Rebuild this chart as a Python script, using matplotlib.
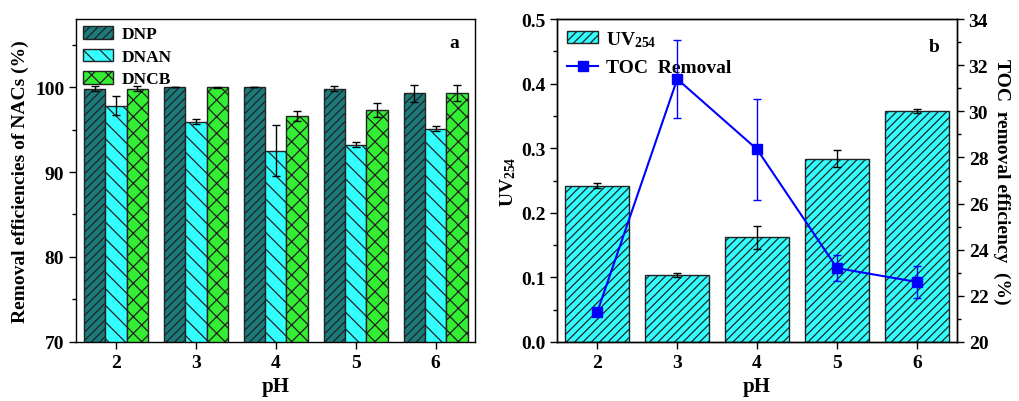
import matplotlib.pyplot as plt
import numpy as np
from matplotlib.lines import Line2D
from matplotlib.patches import Patch
from matplotlib.ticker import MultipleLocator

plt.rcParams['font.family'] = ['Liberation Serif', 'DejaVu Serif']
plt.rcParams['font.weight'] = 'bold'
plt.rcParams['axes.labelweight'] = 'bold'
plt.rcParams['font.size'] = 14
plt.rcParams['mathtext.fontset'] = 'custom'
plt.rcParams['mathtext.rm'] = 'Liberation Serif:bold'
plt.rcParams['mathtext.bf'] = 'Liberation Serif:bold'
plt.rcParams['mathtext.it'] = 'Liberation Serif:bold:italic'
plt.rcParams['hatch.linewidth'] = 0.9

# panel a data
ph = [2, 3, 4, 5, 6]
dnp = [99.8, 100.0, 100.0, 99.8, 99.3]
dnp_err = [0.3, 0.0, 0.0, 0.3, 1.0]
dnan = [97.8, 95.9, 92.5, 93.2, 95.1]
dnan_err = [1.1, 0.3, 3.0, 0.3, 0.3]
dncb = [99.8, 99.95, 96.6, 97.3, 99.3]
dncb_err = [0.3, 0.05, 0.6, 0.8, 0.9]

# panel b data
uv254 = [0.242, 0.103, 0.162, 0.284, 0.358]
uv254_err = [0.004, 0.003, 0.018, 0.013, 0.003]
toc = [21.3, 31.4, 28.35, 23.2, 22.6]
toc_err = [0.1, 1.7, 2.2, 0.55, 0.7]

fig = plt.figure(figsize=(10.19, 4.02), dpi=100)
ax1 = fig.add_axes([0.0746, 0.147, 0.392, 0.803])
ax2 = fig.add_axes([0.547, 0.147, 0.392, 0.803])

x = np.array(ph)
w = 0.267
ekw = dict(ecolor='black', capsize=3, elinewidth=1, capthick=1)
ax1.bar(x - w, dnp, w, color='#1b7b7b', edgecolor='#222222',
        hatch='////', yerr=dnp_err, error_kw=ekw, label='DNP')
ax1.bar(x, dnan, w, color='#33ffff', edgecolor='#222222',
        hatch='\\\\', yerr=dnan_err, error_kw=ekw, label='DNAN')
ax1.bar(x + w, dncb, w, color='#33ee33', edgecolor='#222222',
        hatch='xx', yerr=dncb_err, error_kw=ekw, label='DNCB')
ax1.set_xlim(1.5, 6.5)
ax1.set_ylim(70, 108)
ax1.set_xticks(ph)
ax1.set_yticks([70, 80, 90, 100])
ax1.yaxis.set_minor_locator(MultipleLocator(5))
ax1.set_xlabel('pH', fontsize=15)
ax1.set_ylabel('Removal efficiencies of NACs (%)', fontsize=14)
ax1.text(0.948, 0.929, 'a', transform=ax1.transAxes, fontsize=14,
         ha='center', va='center')
ax1.legend(loc='upper left', frameon=False, fontsize=12.5, handlelength=1.75,
           handleheight=0.75, borderaxespad=0.2, borderpad=0.2,
           labelspacing=0.35, handletextpad=0.5)

ax2.bar(x, uv254, 0.8, color='#33ffff', edgecolor='#222222', hatch='////',
        yerr=uv254_err, error_kw=ekw, zorder=2)
ax2.set_xlim(1.5, 6.5)
ax2.set_ylim(0, 0.5)
ax2.set_xticks(ph)
ax2.yaxis.set_major_locator(MultipleLocator(0.1))
ax2.yaxis.set_minor_locator(MultipleLocator(0.05))
ax2.set_xlabel('pH', fontsize=15)
ax2.set_ylabel('UV$_{254}$', fontsize=14, labelpad=2)
ax2.text(0.943, 0.916, 'b', transform=ax2.transAxes, fontsize=14,
         ha='center', va='center')

ax3 = ax2.twinx()
ax3.errorbar(x, toc, yerr=toc_err, color='#0000ff', marker='s',
             markersize=7, linewidth=1.5, capsize=3, elinewidth=1,
             capthick=1)
ax3.set_ylim(20, 34)
ax3.yaxis.set_major_locator(MultipleLocator(2))
ax3.yaxis.set_minor_locator(MultipleLocator(1))
ax3.set_ylabel('TOC  removal efficiency  (%)', fontsize=14, rotation=270,
               labelpad=16)

handles = [Patch(facecolor='#33ffff', edgecolor='#222222', hatch='////'),
           Line2D([], [], color='#0000ff', marker='s', markersize=7,
                  linewidth=1.5)]
ax2.legend(handles, ['UV$_{254}$', 'TOC  Removal'],
           loc='upper left', frameon=False, fontsize=14, handlelength=1.6,
           handleheight=0.6, borderaxespad=0.3, borderpad=0.2,
           labelspacing=0.55, handletextpad=0.4)

for ax in (ax1, ax2, ax3):
    ax.tick_params(which='major', length=5, width=1, direction='out',
                   labelsize=14)
    ax.tick_params(which='minor', length=3, width=1, direction='out')
    for s in ax.spines.values():
        s.set_linewidth(1.0)

fig.savefig('out.png', dpi=100)
